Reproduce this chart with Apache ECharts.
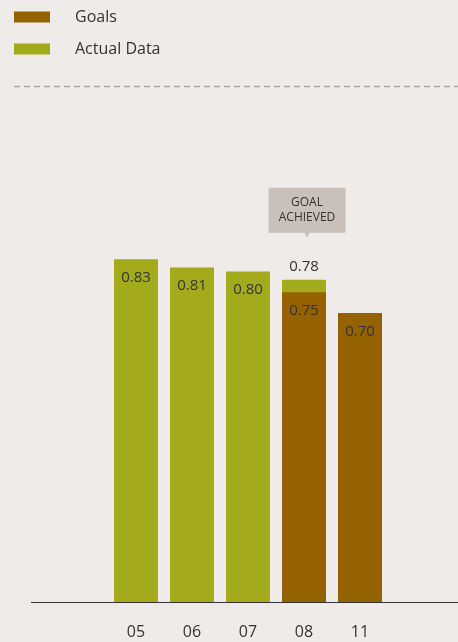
<!DOCTYPE html>
<html><head><meta charset="utf-8">
<script src="https://cdn.jsdelivr.net/npm/echarts@6/dist/echarts.min.js"></script>
<style>html,body{margin:0;padding:0;background:#efebe8;}#c{width:458px;height:642px;}</style>
</head><body><div id="c"></div>
<script>
const categories = ['05', '06', '07', '08', '11'];
const actualData = [0.83, 0.81, 0.80, 0.78, null];
const goals = [null, null, null, 0.75, 0.70];
const calloutText = 'GOAL\nACHIEVED';

const FONT = '"Open Sans", sans-serif';
const GREEN = '#a3ab1a';
const BROWN = '#946300';
const TXT = '#333333';
const fmt = p => (p.value == null ? '' : Number(p.value).toFixed(2));

const chart = echarts.init(document.getElementById('c'));
chart.setOption({
  backgroundColor: '#efebe8',
  animation: false,
  textStyle: { fontFamily: FONT },
  legend: {
    orient: 'vertical', left: 14, top: 9, padding: 0,
    itemWidth: 36, itemHeight: 11, itemGap: 16,
    icon: 'rect',
    data: ['Goals', 'Actual Data'],
    textStyle: { fontFamily: FONT, fontSize: 16, color: TXT, padding: [0, 0, 0, 20] }
  },
  grid: { left: 108, right: 70, top: 189, bottom: 40 },
  xAxis: {
    type: 'category', data: categories,
    axisLine: { show: false }, axisTick: { show: false },
    axisLabel: { fontFamily: FONT, fontSize: 16, color: TXT, margin: 22 }
  },
  yAxis: { type: 'value', min: 0, max: 1, show: false, splitLine: { show: false } },
  graphic: [
    { type: 'line', shape: { x1: 14, y1: 86.5, x2: 458, y2: 86.5 },
      style: { stroke: '#aaa6a3', lineWidth: 1.5, lineDash: [6, 4] } },
    { type: 'line', z: 10, shape: { x1: 31, y1: 602.5, x2: 458, y2: 602.5 },
      style: { stroke: '#333', lineWidth: 1 } }
  ],
  series: [
    {
      name: 'Actual Data', type: 'bar', barWidth: 44, barGap: '-100%',
      itemStyle: { color: GREEN },
      label: { show: true, position: 'insideTop', distance: 11, fontFamily: FONT, fontSize: 15, color: TXT, formatter: fmt },
      data: actualData.map((v, i) => i === 3
        ? { value: v, label: { position: 'top', distance: 6 } }
        : v),
      markPoint: {
        symbol: 'path://M0,0 L77,0 L77,45 L41,45 L38.5,50 L36,45 L0,45 Z',
        symbolSize: [77, 50],
        symbolOffset: [3, -67],
        itemStyle: { color: '#c9c0b9' },
        label: { show: true, formatter: calloutText, fontFamily: FONT, fontSize: 12, lineHeight: 15, color: TXT, offset: [0, -3] },
        data: [{ coord: ['08', 0.78] }]
      }
    },
    {
      name: 'Goals', type: 'bar', barWidth: 44, barGap: '-100%',
      itemStyle: { color: BROWN },
      label: { show: true, position: 'insideTop', distance: 11, fontFamily: FONT, fontSize: 15, color: TXT, formatter: fmt },
      data: goals
    }
  ]
});
</script></body></html>
